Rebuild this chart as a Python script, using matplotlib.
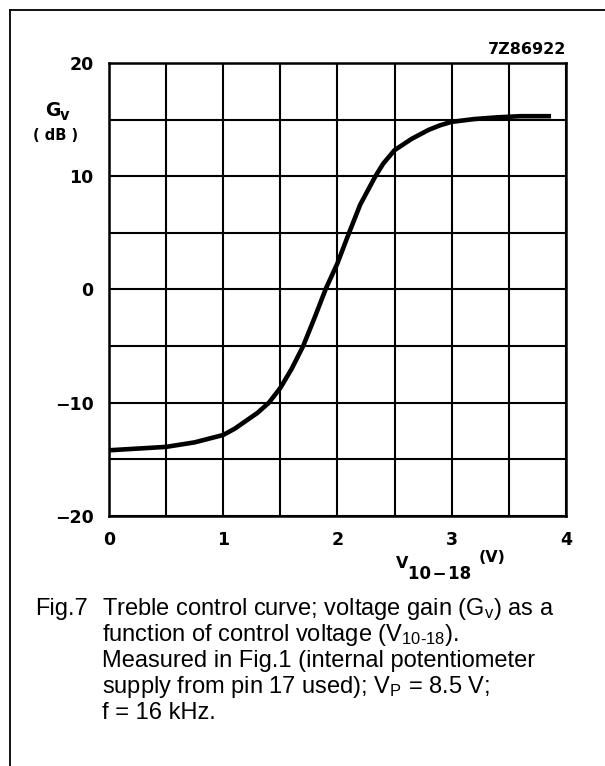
import numpy as np
import matplotlib.pyplot as plt
from matplotlib.lines import Line2D

plt.rcParams['font.family'] = ['Liberation Sans', 'DejaVu Sans']
plt.rcParams['mathtext.fontset'] = 'custom'
plt.rcParams['mathtext.rm'] = 'Liberation Sans'
plt.rcParams['mathtext.it'] = 'Liberation Sans'

# control voltage V10-18 (V) and gain Gv (dB)
volts = [0.0, 0.25, 0.5, 0.75, 1.0, 1.1, 1.2, 1.3, 1.4, 1.5, 1.6, 1.7, 1.8,
         1.9, 2.0, 2.1, 2.2, 2.33, 2.4, 2.5, 2.65, 2.8, 2.9, 3.0, 3.2, 3.4,
         3.6, 3.87]
gain = [-14.2, -14.05, -13.9, -13.5, -12.85, -12.3, -11.6, -10.9, -10.0,
        -8.7, -7.0, -5.0, -2.5, 0.1, 2.3, 4.95, 7.5, 9.95, 11.1, 12.3, 13.3,
        14.1, 14.5, 14.8, 15.05, 15.2, 15.3, 15.3]

xticks = [0, 1, 2, 3, 4]
yticks = [-20, -10, 0, 10, 20]
ytick_labels = ['\u221220', '\u221210', '0', '10', '20']

W, H = 605, 766
def fx(px):
    return px / W
def fy(py):
    return 1 - py / H

bold = dict(family='DejaVu Sans', fontweight='bold')

fig = plt.figure(figsize=(6.05, 7.66), dpi=100)
ax = fig.add_axes([0.180, 0.3264, 0.7554, 0.5914])

ax.plot(volts, gain, color='black', lw=3.3, solid_capstyle='butt')

ax.set_xlim(0, 4)
ax.set_ylim(-20, 20)
ax.set_xticks(np.arange(0, 4.01, 0.5), minor=True)
ax.set_yticks(np.arange(-20, 20.1, 5), minor=True)
ax.set_xticks(xticks)
ax.set_yticks(yticks)
ax.set_xticklabels([str(t) for t in xticks], fontsize=12.5, **bold)
ax.set_yticklabels(ytick_labels, fontsize=12.5, **bold)
ax.tick_params(which='both', length=0)
ax.tick_params(axis='x', pad=11)
ax.tick_params(axis='y', pad=11)
ax.grid(which='both', color='black', lw=1.5)
for s in ax.spines.values():
    s.set_linewidth(1.8)

# axis labels
fig.text(fx(45), fy(110), 'G', fontsize=13.5, ha='left', va='center', **bold)
fig.text(fx(60), fy(115), 'v', fontsize=10.5, ha='left', va='center', **bold)
fig.text(fx(56), fy(135), '( dB )', fontsize=10.5, ha='center', va='center', **bold)
fig.text(fx(566), fy(50), '7Z86922', fontsize=11.5, ha='right', va='center', **bold)
fig.text(fx(396), fy(563), 'V', fontsize=11.5, ha='left', va='center', **bold)
fig.text(fx(408), fy(574), '10\u200a\u2212\u200a18', fontsize=12, ha='left',
         va='center', **bold)
fig.text(fx(479), fy(557), '(V)', fontsize=11.5, ha='left', va='center', **bold)

# caption
cap = 17
fig.text(fx(35), fy(609), 'Fig.7', fontsize=cap, va='center')
lines = ['Treble control curve; voltage gain (G$_\\mathregular{v}$) as a',
         'function of control voltage (V$_\\mathregular{10\u201018}$).',
         'Measured in Fig.1 (internal potentiometer',
         'supply from pin 17 used); V$_\\mathregular{P}$ = 8.5 V;',
         'f = 16 kHz.']
for i, ln in enumerate(lines):
    fig.text(fx(102), fy(609 + 26 * i), ln, fontsize=cap, va='center')

# page frame (top and left edges)
fig.add_artist(Line2D([fx(10), 1], [fy(10), fy(10)],
                      transform=fig.transFigure, color='black', lw=1.3))
fig.add_artist(Line2D([fx(10), fx(10)], [0, fy(10)],
                      transform=fig.transFigure, color='black', lw=1.3))

fig.savefig('out.png', dpi=100)
